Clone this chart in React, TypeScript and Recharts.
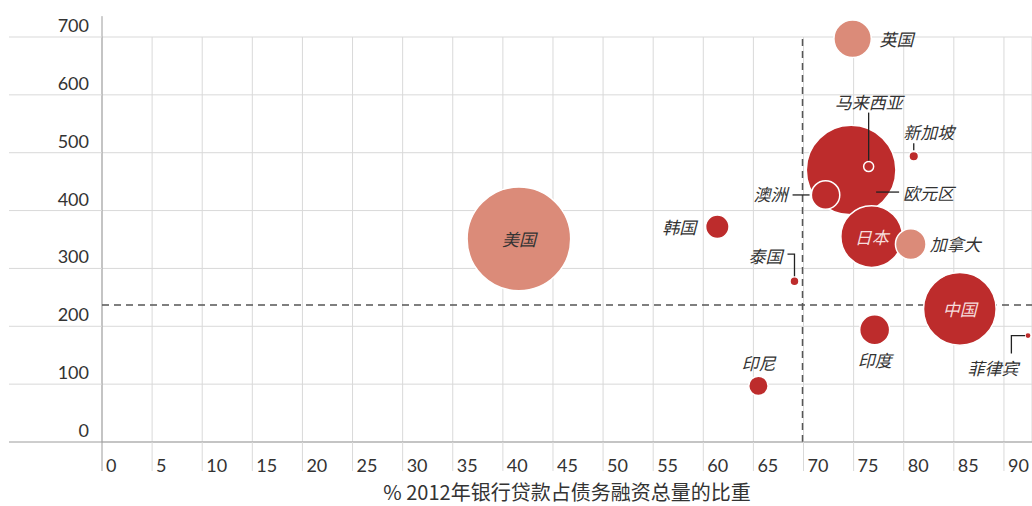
import React from 'react'
import {
  ScatterChart, Scatter, XAxis, YAxis, ZAxis, CartesianGrid, ReferenceLine
} from 'recharts'

// values
const countries = ['美国', '英国', '欧元区', '马来西亚', '新加坡', '澳洲', '日本', '加拿大', '韩国', '泰国', '印尼', '中国', '印度', '菲律宾']
const loanShare = [41.6, 74.9, 74.75, 76.5, 81.0, 72.2, 76.8, 80.7, 61.4, 69.1, 65.5, 85.6, 77.1, 92.4]
const debtLevel = [351, 697, 470, 476, 494, 427, 355, 342, 372, 278, 97, 230, 194, 184]
const bubbleSize = [2683, 350, 2007, 25, 23, 202, 949, 234, 137, 20, 94, 1318, 225, 10]
const marketBased = ['美国', '英国', '加拿大']

const xTicks = [0, 5, 10, 15, 20, 25, 30, 35, 40, 45, 50, 55, 60, 65, 70, 75, 80, 85, 90]
const yTicks = [0, 100, 200, 300, 400, 500, 600, 700]
const xThreshold = 69.9
const yThreshold = 237
const xTitle = '% 2012年银行贷款占债务融资总量的比重'

const data = countries.map((name, i) => ({
  name, x: loanShare[i], y: debtLevel[i], z: bubbleSize[i],
}))

const DARK = '#bd2c2c'
const LIGHT = '#db8b79'
const GRID = '#d9d9d9'
const AXIS = '#9c9c9c'
const INK = '#333'
const NUM_FONT = 'Lato, "Noto Sans", sans-serif'
const CJK_FONT = '"Noto Sans CJK SC", sans-serif'
const PLOT_LEFT = 102
const PLOT_BOTTOM = 442

type Spot = {
  anchor: 'start' | 'middle' | 'end'
  dx: number
  dy: number
  light?: boolean
  lead?: number[][]
}

// label placement relative to bubble centre
const LABEL_SPOTS: Record<string, Spot> = {
  '美国': { anchor: 'middle', dx: 0, dy: 0 },
  '英国': { anchor: 'start', dx: 27, dy: 0 },
  '欧元区': { anchor: 'start', dx: 52, dy: 22, lead: [[25, 22], [48, 22]] },
  '马来西亚': { anchor: 'middle', dx: 0, dy: -65, lead: [[0, -6], [0, -54]] },
  '新加坡': { anchor: 'middle', dx: 15, dy: -25, lead: [[0, -13], [0, -6]] },
  '澳洲': { anchor: 'end', dx: -38, dy: -1, lead: [[-33, 0], [-16, 0]] },
  '日本': { anchor: 'middle', dx: 0, dy: 0, light: true },
  '加拿大': { anchor: 'start', dx: 19, dy: -1 },
  '韩国': { anchor: 'end', dx: -21, dy: 0 },
  '泰国': { anchor: 'end', dx: -12, dy: -26, lead: [[-7, -27], [0, -27], [0, -5]] },
  '印尼': { anchor: 'middle', dx: 0, dy: -23 },
  '中国': { anchor: 'middle', dx: 0, dy: 0, light: true },
  '印度': { anchor: 'middle', dx: 0, dy: 30 },
  '菲律宾': { anchor: 'middle', dx: -35, dy: 32, lead: [[-3, 0], [-16.6, 0], [-16.6, 18]] },
}

function Bubble(props: any) {
  const { cx, cy, width, payload } = props
  const fill = marketBased.includes(payload.name) ? LIGHT : DARK
  return <circle cx={cx} cy={cy} r={width / 2} fill={fill} stroke="#fff" strokeWidth={1.5} />
}

function BubbleLabel(props: any) {
  const { cx, cy, payload } = props
  const spot = LABEL_SPOTS[payload.name]
  if (!spot) return <g />
  return (
    <g>
      {spot.lead && (
        <polyline
          points={spot.lead.map(([dx, dy]) => `${cx + dx},${cy + dy}`).join(' ')}
          fill="none"
          stroke="#222"
          strokeWidth={1.3}
        />
      )}
      <text
        x={cx + spot.dx}
        y={cy + spot.dy}
        textAnchor={spot.anchor}
        dominantBaseline="central"
        fontFamily={CJK_FONT}
        fontStyle="italic"
        fontSize={17}
        fill={spot.light ? '#f6dcdc' : INK}
      >
        {payload.name}
      </text>
    </g>
  )
}

function XTick(props: any) {
  const { x, payload } = props
  return (
    <g>
      <line x1={x} x2={x} y1={PLOT_BOTTOM} y2={PLOT_BOTTOM + 29} stroke={payload.value === 0 ? AXIS : GRID} />
      <text x={x + 4} y={PLOT_BOTTOM + 30} fontFamily={NUM_FONT} fontSize={18} fill={INK}>
        {payload.value}
      </text>
    </g>
  )
}

function YTick(props: any) {
  const { y, payload } = props
  return (
    <g>
      <line x1={9} x2={PLOT_LEFT} y1={y} y2={y} stroke={payload.value === 0 ? AXIS : GRID} />
      <text x={89} y={y - 5} textAnchor="end" fontFamily={NUM_FONT} fontSize={18} fill={INK}>
        {payload.value}
      </text>
    </g>
  )
}

export default function App() {
  return (
    <div style={{ position: 'absolute', left: 0, top: 0, background: '#fff' }}>
      <ScatterChart width={1032} height={506} margin={{ top: 37, right: 0, bottom: 0, left: 0 }}>
        <CartesianGrid stroke={GRID} />
        <XAxis
          type="number"
          dataKey="x"
          domain={[0, 92.8]}
          ticks={xTicks}
          interval={0}
          height={64}
          tick={<XTick />}
          tickLine={false}
          axisLine={{ stroke: AXIS }}
          label={{ value: xTitle, position: 'insideBottom', offset: 6, fill: INK, fontSize: 20, fontFamily: CJK_FONT }}
        />
        <YAxis
          type="number"
          dataKey="y"
          domain={[0, 700]}
          ticks={yTicks}
          interval={0}
          width={PLOT_LEFT}
          tick={<YTick />}
          tickLine={false}
          axisLine={false}
        />
        <ZAxis type="number" dataKey="z" domain={[0, 2683]} range={[0, Math.PI * 2683]} />
        <ReferenceLine segment={[{ x: 0, y: 0 }, { x: 0, y: 736 }]} ifOverflow="visible" stroke={AXIS} />
        <ReferenceLine x={xThreshold} stroke="#555" strokeDasharray="7 5" strokeWidth={1.5} />
        <ReferenceLine y={yThreshold} stroke="#555" strokeDasharray="7 5" strokeWidth={1.5} />
        <Scatter data={data} shape={<Bubble />} isAnimationActive={false} />
        <Scatter data={data} shape={<BubbleLabel />} isAnimationActive={false} />
      </ScatterChart>
    </div>
  )
}
